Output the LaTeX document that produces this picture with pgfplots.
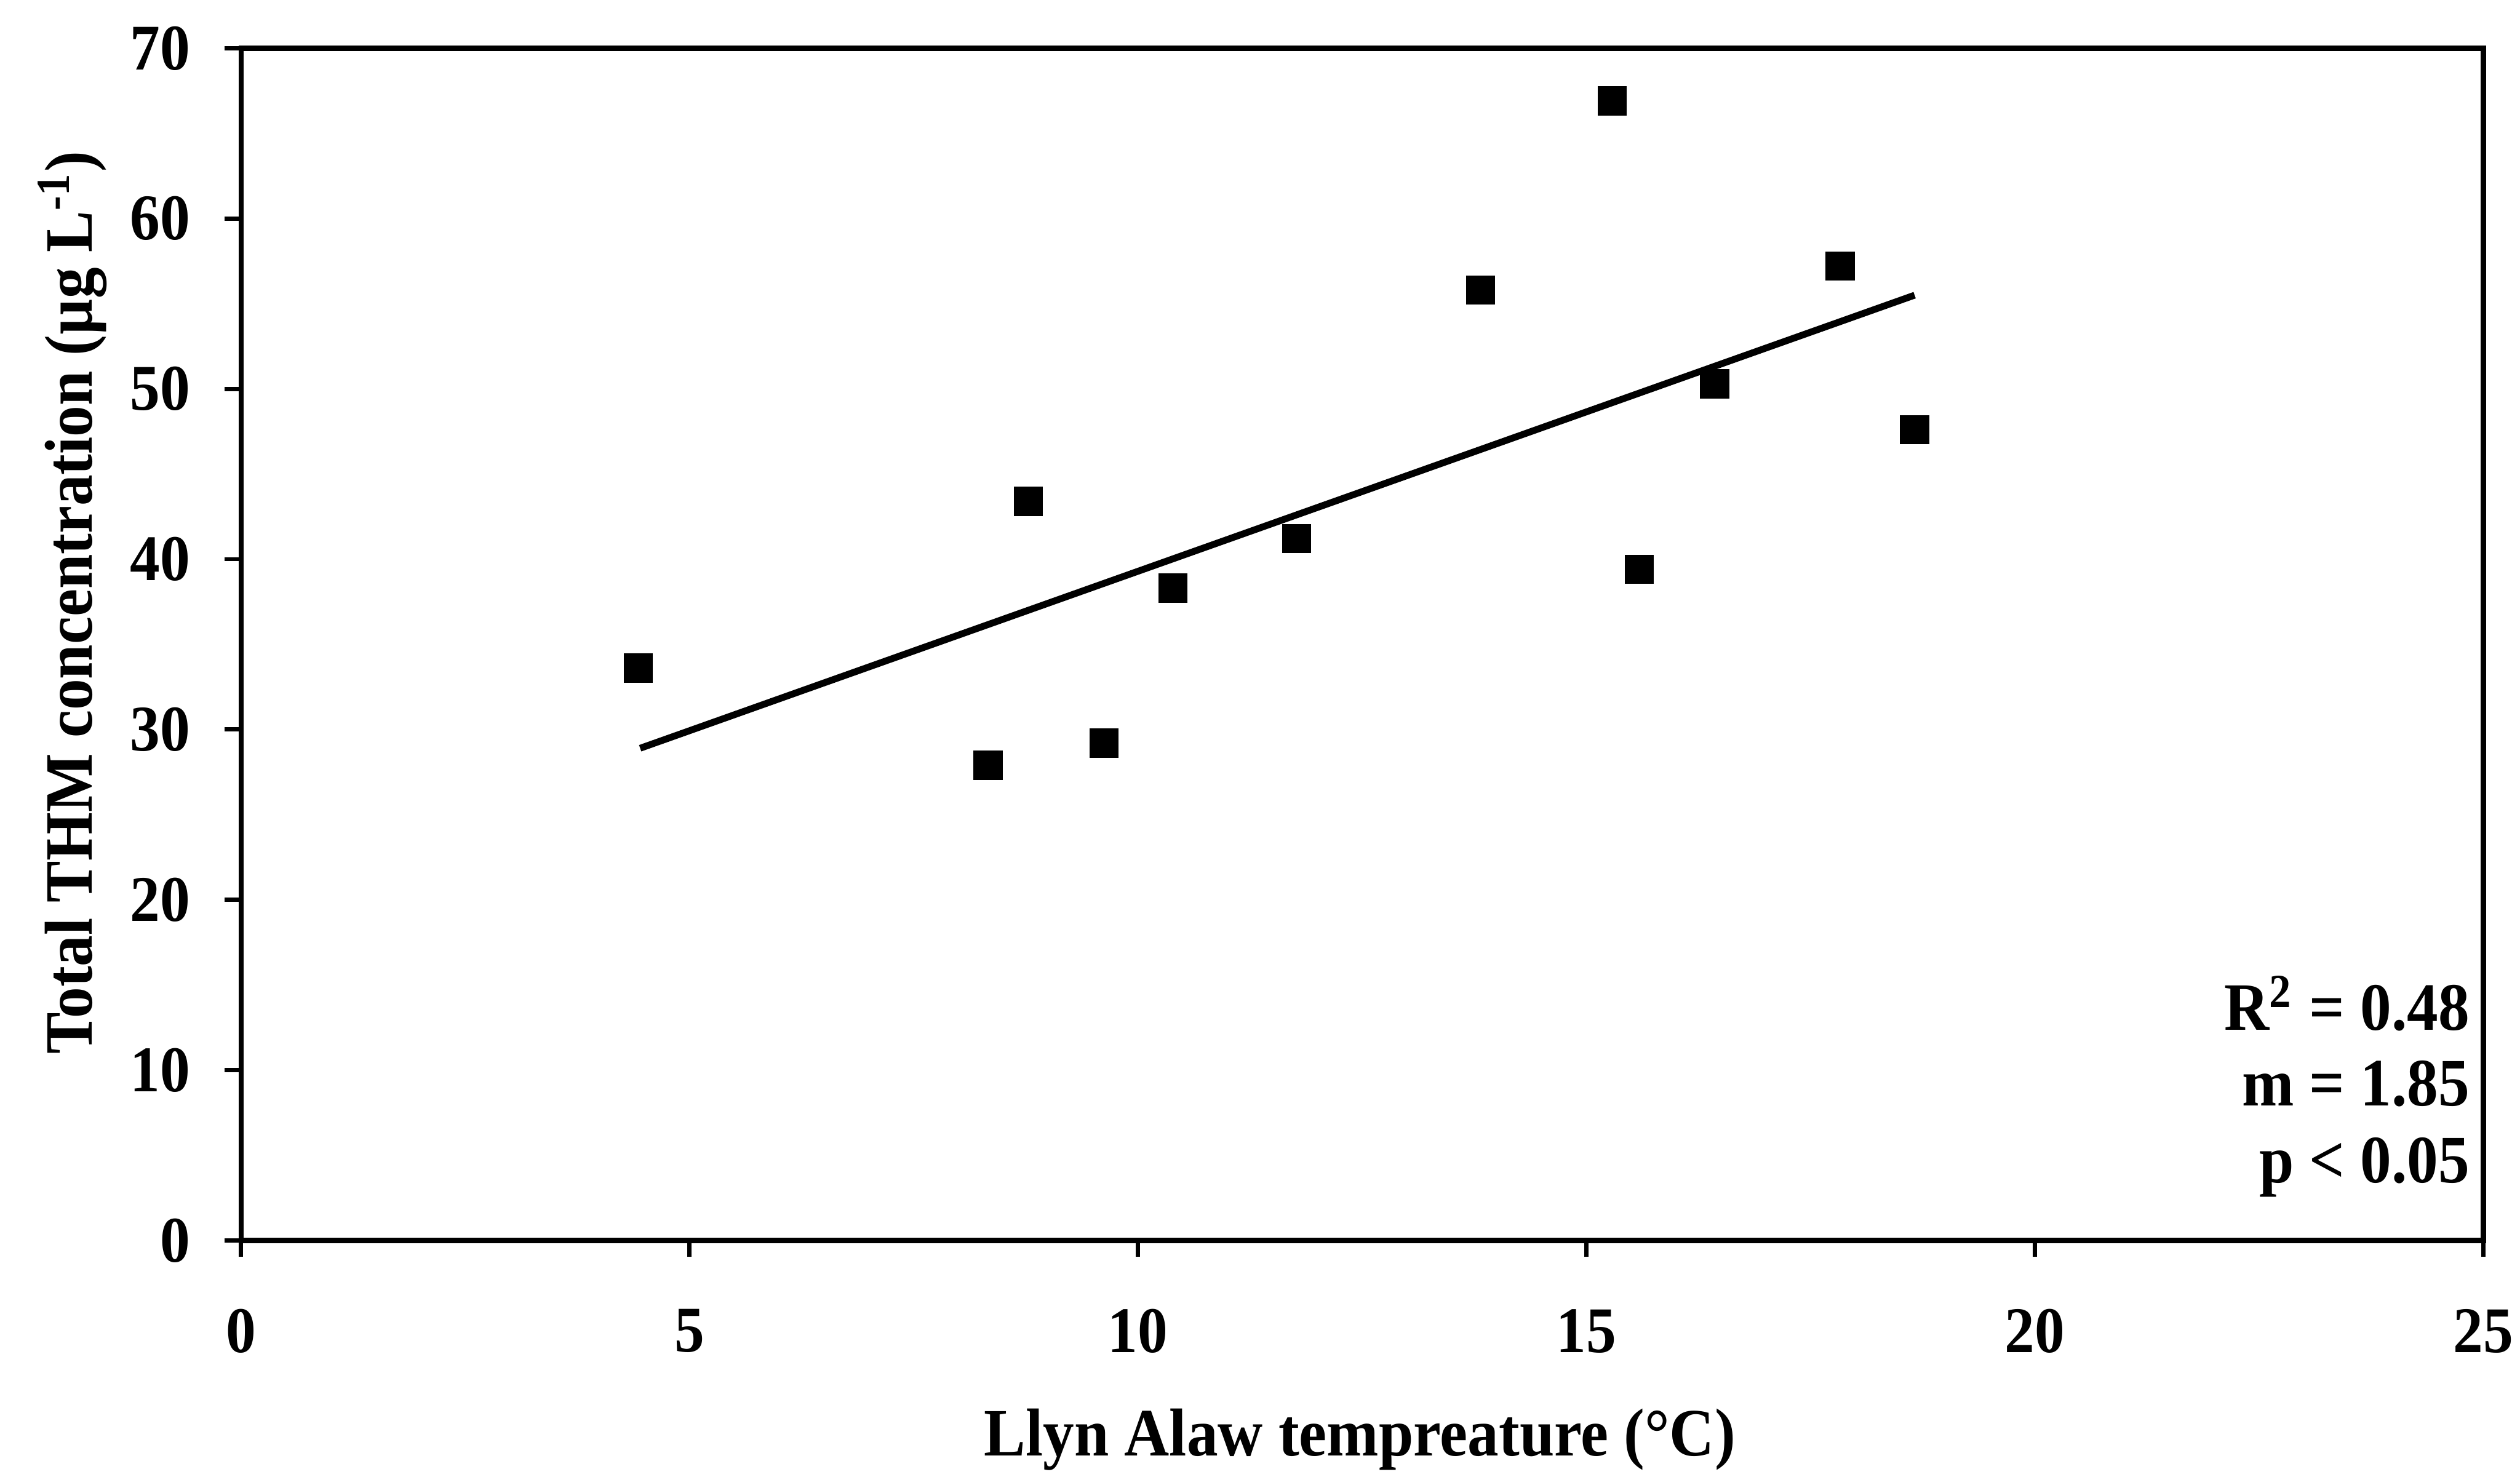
\documentclass[border=0pt]{standalone}
\usepackage{fontspec}
\setmainfont{Liberation Serif}[FakeStretch=0.92]
\usepackage{pgfplots}
\pgfplotsset{compat=1.18}
\begin{document}
\begin{tikzpicture}
\begin{axis}[
  scale only axis,
  width=15.125cm, height=8.044cm,
  xmin=0, xmax=25, ymin=0, ymax=70,
  xtick={0,5,10,15,20,25},
  ytick={0,10,20,30,40,50,60,70},
  axis line style={line width=1pt},
  tick style={black, line width=0.8pt},
  tick align=outside,
  major tick length=0.11cm,
  xtick pos=bottom, ytick pos=left,
  /pgf/number format/assume math mode=true,
  tick label style={font=\bfseries\fontsize{12.5}{14}\selectfont},
  xticklabel style={yshift=-0.23cm},
  yticklabel style={xshift=-0.11cm},
  label style={font=\bfseries\fontsize{13}{15}\selectfont},
  xlabel={Llyn Alaw tempreature (\textdegree C)},
  ylabel={Total THM concentration (µg L\textsuperscript{-1})},
  xlabel style={at={(axis description cs:0.499,-0.167)}, anchor=center},
  ylabel style={at={(axis description cs:-0.0753,0.535)}, anchor=center},
  clip=false,
]
\addplot[only marks, mark=square*, mark size=2.6pt, black] coordinates {
  (4.43,33.6) (8.33,27.9) (8.78,43.4) (9.62,29.2) (10.39,38.3) (11.77,41.2)
  (13.82,55.8) (15.29,66.9) (15.59,39.4) (16.43,50.3) (17.83,57.2) (18.66,47.6)
};
\addplot[black, line width=1.3pt] coordinates {(4.45,28.9) (18.66,55.5)};
\node[anchor=base east, font=\bfseries\fontsize{13}{15}\selectfont, inner sep=0pt]
  at (axis cs:24.86,12.36) {R\textsuperscript{2} = 0.48};
\node[anchor=base east, font=\bfseries\fontsize{13}{15}\selectfont, inner sep=0pt]
  at (axis cs:24.86,7.9) {m = 1.85};
\node[anchor=base east, font=\bfseries\fontsize{13}{15}\selectfont, inner sep=0pt]
  at (axis cs:24.86,3.4) {p < 0.05};
\coordinate (bbl) at (axis cs:-2.688,-13.87);
\coordinate (btr) at (axis cs:25.41,72.83);
\end{axis}
\pgfresetboundingbox
\useasboundingbox (bbl) rectangle (btr);
\end{tikzpicture}
\end{document}
